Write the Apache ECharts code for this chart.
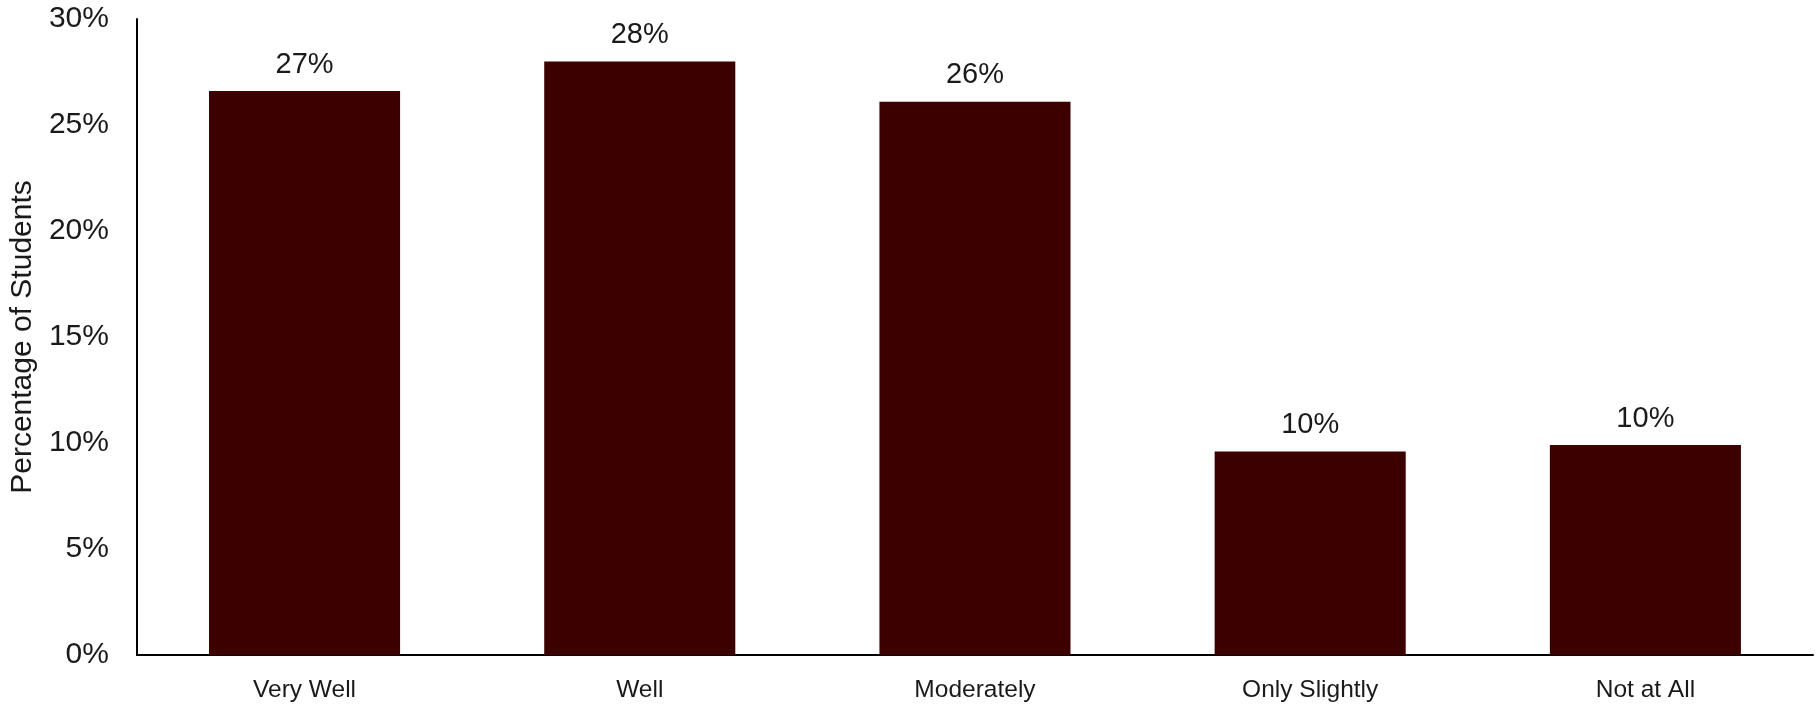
<!DOCTYPE html>
<html>
<head>
<meta charset="utf-8">
<script src="https://cdn.jsdelivr.net/npm/echarts@6/dist/echarts.min.js"></script>
<style>html,body{margin:0;padding:0;background:#fff;}#c{width:1819px;height:704px;}</style>
</head>
<body>
<div id="c"></div>
<script>
var categories = ['Very Well', 'Well', 'Moderately', 'Only Slightly', 'Not at All'];
var values = [26.6, 28.0, 26.1, 9.6, 9.9];
var yTicks = [0, 5, 10, 15, 20, 25, 30];

var chart = echarts.init(document.getElementById('c'));
chart.setOption({
  animation: false,
  grid: { left: 136, right: 6, top: 19, bottom: 49, containLabel: false },
  xAxis: {
    type: 'category',
    data: categories,
    axisLine: { lineStyle: { color: '#000', width: 2 } },
    axisTick: { show: false },
    axisLabel: { color: '#1a1a1a', fontFamily: 'Liberation Sans', fontSize: 24.5, margin: 23 }
  },
  yAxis: {
    type: 'value',
    min: yTicks[0], max: yTicks[yTicks.length - 1], interval: 5,
    name: 'Percentage of Students',
    nameLocation: 'middle',
    nameGap: 98,
    nameTextStyle: { color: '#1a1a1a', fontFamily: 'Liberation Sans', fontSize: 30 },
    axisLine: { show: true, lineStyle: { color: '#000', width: 2 } },
    axisTick: { show: false },
    splitLine: { show: false },
    axisLabel: { color: '#1a1a1a', fontFamily: 'Liberation Sans', fontSize: 30, margin: 28, formatter: '{value}%' }
  },
  series: [{
    type: 'bar',
    data: values,
    barWidth: '57%',
    itemStyle: { color: '#3d0000' },
    label: {
      show: true, position: 'top', distance: 12,
      color: '#1a1a1a', fontFamily: 'Liberation Sans', fontSize: 29,
      formatter: function (p) { return Math.round(p.value) + '%'; }
    }
  }]
});
</script>
</body>
</html>
